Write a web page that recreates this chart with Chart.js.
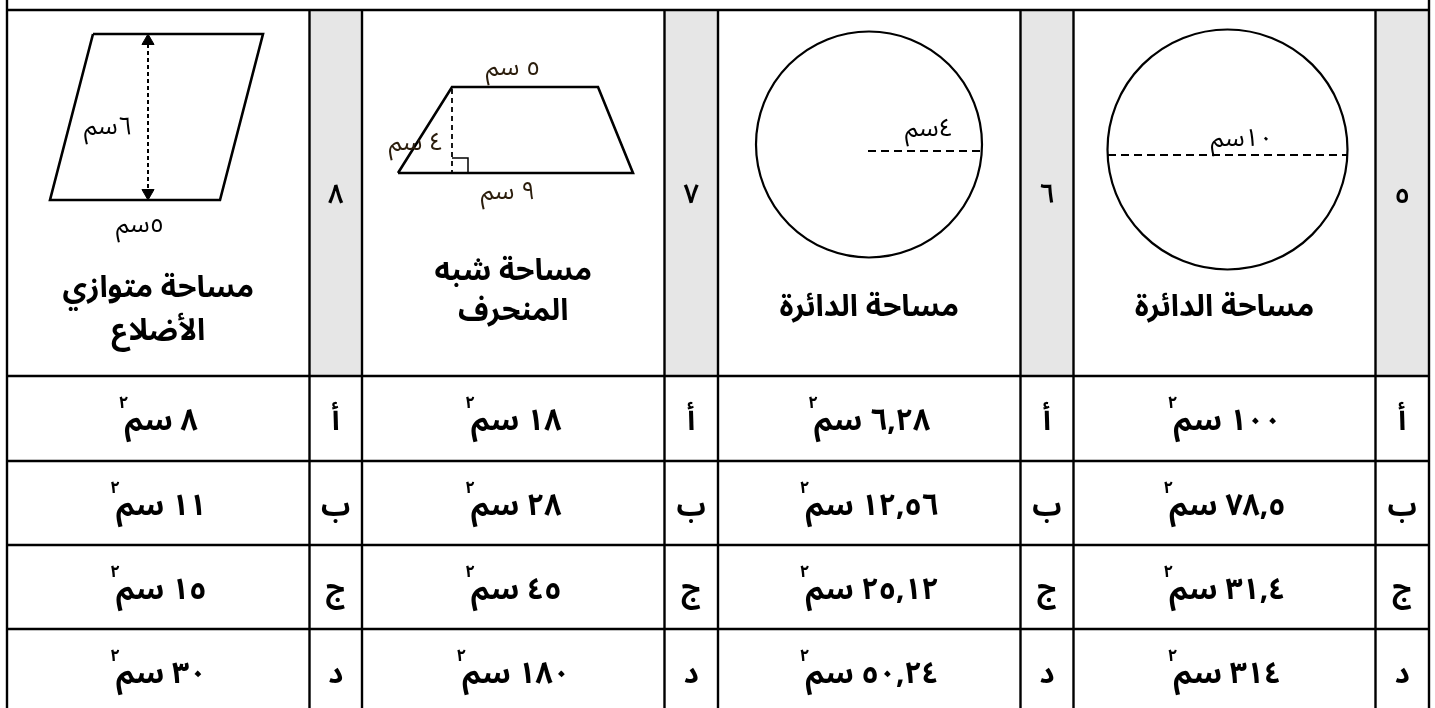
<!DOCTYPE html>
<html><head><meta charset="utf-8">
<script src="https://cdn.jsdelivr.net/npm/chart.js@4/dist/chart.umd.min.js"></script>
<style>html,body{margin:0;padding:0;background:#fff;overflow:hidden}canvas{display:block}</style>
</head><body>
<div style="width:1435px;height:708px;position:relative"><canvas id="c" width="1435" height="708"></canvas></div>
<script>
// ---- table content (questions ordered right to left: 5,6,7,8) ----
const questionNumbers = ['٥', '٦', '٧', '٨'];
const questionTitles = [['مساحة الدائرة'], ['مساحة الدائرة'], ['مساحة شبه', 'المنحرف'], ['مساحة متوازي', 'الأضلاع']];
const choiceLetters = ['أ', 'ب', 'ج', 'د'];
const answersQ5 = ['١٠٠', '٧٨,٥', '٣١,٤', '٣١٤'];
const answersQ6 = ['٦,٢٨', '١٢,٥٦', '٢٥,١٢', '٥٠,٢٤'];
const answersQ7 = ['١٨', '٢٨', '٤٥', '١٨٠'];
const answersQ8 = ['٨', '١١', '١٥', '٣٠'];
const unitLabel = 'سم';
const unitPower = '٢';
const figureLabels = ['١٠سم', '٤سم', '٥ سم', '٤ سم', '٩ سم', '٦سم', '٥سم'];

// ---- table grid (page coordinates) ----
const colEdges = [7, 309.5, 362, 664.5, 718, 1020.5, 1073.5, 1375.5, 1429];
const rowEdges = [10, 376, 461, 545, 629, 713];
const titleBaselines = [[316], [316], [280, 320], [297, 340]];

// ---- figure geometry (page coordinates) ----
const circle5 = [{x: 1227.5, y: 149.5}];
const circle5Radius = 120;
const diameter5 = [{x: 1108, y: 155}, {x: 1347, y: 155}];
const circle6 = [{x: 869, y: 144.5}];
const circle6Radius = 113;
const radius6 = [{x: 868, y: 151}, {x: 982, y: 151}];
const trapezoid = [{x: 398, y: 173}, {x: 452, y: 87}, {x: 598, y: 87}, {x: 633, y: 173}, {x: 398, y: 173}];
const trapHeight = [{x: 452, y: 89}, {x: 452, y: 172}];
const rightAngle = [{x: 452, y: 158}, {x: 468, y: 158}, {x: 468, y: 172}];
const parallelogram = [{x: 93, y: 34}, {x: 263, y: 34}, {x: 220, y: 200}, {x: 50, y: 200}, {x: 93, y: 34}];
const paraHeight = [{x: 148, y: 44}, {x: 148, y: 190}];
const arrowTop = [{x: 148, y: 41}];
const arrowBottom = [{x: 148, y: 193}];
const labelAnchors = [
  {x: 1242, y: 146}, {x: 929, y: 136}, {x: 513, y: 75}, {x: 416, y: 150},
  {x: 508, y: 199}, {x: 108, y: 134}, {x: 140, y: 232}
];

const FONT = '"Noto Sans Arabic","Noto Sans",sans-serif';
const INK = '#000';

function lineDs(pts, extra) {
  return Object.assign({data: pts, showLine: true, borderColor: INK, borderWidth: 2.5,
    pointRadius: 0, pointHoverRadius: 0, fill: false, tension: 0}, extra || {});
}

const tablePlugin = {
  id: 'tablePlugin',
  beforeDatasetsDraw(chart) {
    const {ctx, scales: {x, y}} = chart;
    ctx.save();
    ctx.fillStyle = '#e6e6e6';
    for (let q = 0; q < 4; q++) {
      const l = colEdges[8 - 2 * q - 1], r = colEdges[8 - 2 * q];
      ctx.fillRect(x.getPixelForValue(l), y.getPixelForValue(rowEdges[0]),
        x.getPixelForValue(r) - x.getPixelForValue(l), y.getPixelForValue(rowEdges[1]) - y.getPixelForValue(rowEdges[0]));
    }
    ctx.strokeStyle = INK;
    ctx.lineWidth = 2.4;
    ctx.beginPath();
    colEdges.forEach((cx, i) => {
      const top = (i === 0 || i === colEdges.length - 1) ? 0 : rowEdges[0];
      ctx.moveTo(x.getPixelForValue(cx), y.getPixelForValue(top));
      ctx.lineTo(x.getPixelForValue(cx), y.getPixelForValue(rowEdges[rowEdges.length - 1]));
    });
    rowEdges.forEach(ry => {
      ctx.moveTo(x.getPixelForValue(colEdges[0]), y.getPixelForValue(ry));
      ctx.lineTo(x.getPixelForValue(colEdges[colEdges.length - 1]), y.getPixelForValue(ry));
    });
    ctx.stroke();
    ctx.restore();
  },
  afterDatasetsDraw(chart) {
    const {ctx, scales: {x, y}} = chart;
    const answers = [answersQ5, answersQ6, answersQ7, answersQ8];
    ctx.save();
    ctx.fillStyle = INK;
    ctx.direction = 'rtl';
    ctx.textBaseline = 'alphabetic';
    for (let q = 0; q < 4; q++) {
      const numL = colEdges[8 - 2 * q - 1], numR = colEdges[8 - 2 * q];
      const conL = colEdges[8 - 2 * q - 2], conR = numL;
      const numCx = x.getPixelForValue((numL + numR) / 2);
      const conCx = x.getPixelForValue((conL + conR) / 2);
      ctx.font = '600 27px ' + FONT;
      ctx.textAlign = 'center';
      ctx.fillText(questionNumbers[q], numCx, y.getPixelForValue(203));
      ctx.font = 'bold 30px ' + FONT;
      questionTitles[q].forEach((line, k) => ctx.fillText(line, conCx, y.getPixelForValue(titleBaselines[q][k])));
      for (let r = 0; r < 4; r++) {
        const base = y.getPixelForValue(rowEdges[r + 1] + 54);
        ctx.font = 'bold 29px ' + FONT;
        ctx.textAlign = 'center';
        ctx.fillText(choiceLetters[r], numCx, base);
        const main = answers[q][r] + ' ' + unitLabel;
        ctx.font = 'bold 30px ' + FONT;
        const wMain = ctx.measureText(main).width;
        ctx.font = 'bold 17px ' + FONT;
        const wSup = ctx.measureText(unitPower).width;
        const total = wMain + wSup - 4;
        const right = conCx + total / 2;
        ctx.font = 'bold 30px ' + FONT;
        ctx.textAlign = 'right';
        ctx.fillText(main, right, base);
        ctx.font = 'bold 17px ' + FONT;
        ctx.textAlign = 'left';
        ctx.fillText(unitPower, right - total, base - 22);
      }
    }
    ctx.textAlign = 'center';
    figureLabels.forEach((s, i) => {
      ctx.fillStyle = (i >= 2 && i <= 4) ? '#2b1d0c' : INK;
      ctx.font = '25px ' + FONT;
      ctx.fillText(s, x.getPixelForValue(labelAnchors[i].x), y.getPixelForValue(labelAnchors[i].y));
    });
    ctx.restore();
  }
};

new Chart(document.getElementById('c'), {
  type: 'scatter',
  data: {
    datasets: [
      {data: circle5, pointRadius: circle5Radius, pointHoverRadius: circle5Radius, pointStyle: 'circle',
        pointBackgroundColor: 'rgba(0,0,0,0)', pointBorderColor: INK, pointBorderWidth: 2.2},
      {data: circle6, pointRadius: circle6Radius, pointHoverRadius: circle6Radius, pointStyle: 'circle',
        pointBackgroundColor: 'rgba(0,0,0,0)', pointBorderColor: INK, pointBorderWidth: 2.2},
      lineDs(diameter5, {borderDash: [8, 5], borderWidth: 2.2}),
      lineDs(radius6, {borderDash: [8, 5], borderWidth: 2.2}),
      lineDs(trapezoid, {borderWidth: 2.6}),
      lineDs(trapHeight, {borderDash: [5, 4], borderWidth: 1.8}),
      lineDs(rightAngle, {borderWidth: 1.5}),
      lineDs(parallelogram, {borderWidth: 2.6}),
      lineDs(paraHeight, {borderDash: [4, 3], borderWidth: 2}),
      {data: arrowTop, pointStyle: 'triangle', pointRadius: 7, rotation: 0, pointBackgroundColor: INK, pointBorderColor: INK},
      {data: arrowBottom, pointStyle: 'triangle', pointRadius: 7, rotation: 180, pointBackgroundColor: INK, pointBorderColor: INK}
    ]
  },
  options: {
    responsive: false,
    animation: false,
    events: [],
    layout: {padding: 0, autoPadding: false},
    plugins: {legend: {display: false}, tooltip: {enabled: false}},
    scales: {
      x: {type: 'linear', min: 0, max: 1435, display: false},
      y: {type: 'linear', min: 0, max: 708, reverse: true, display: false}
    }
  },
  plugins: [tablePlugin]
});
</script>
</body></html>
